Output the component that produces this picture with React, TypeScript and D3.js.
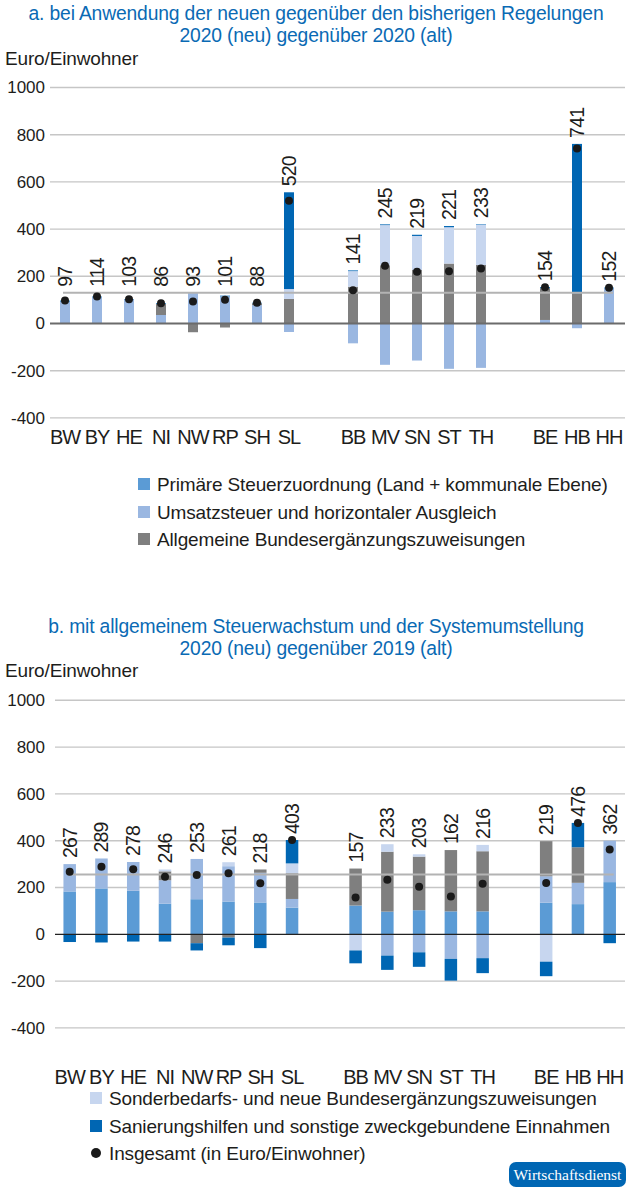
import React from "react";
import * as d3 from "d3";

// ---------- data ----------
const states = ["BW", "BY", "HE", "NI", "NW", "RP", "SH", "SL", "BB", "MV", "SN", "ST", "TH", "BE", "HB", "HH"];
const slots = ["BW", "BY", "HE", "NI", "NW", "RP", "SH", "SL", "_g1", "BB", "MV", "SN", "ST", "TH", "_g2", "BE", "HB", "HH"];
const yTicks = [1000, 800, 600, 400, 200, 0, -200, -400];

const seriesKeys = ["prim", "ust", "abez", "sbez", "san"];
const seriesNames = [
  "Primäre Steuerzuordnung (Land + kommunale Ebene)",
  "Umsatzsteuer und horizontaler Ausgleich",
  "Allgemeine Bundesergänzungszuweisungen",
  "Sonderbedarfs- und neue Bundesergänzungszuweisungen",
  "Sanierungshilfen und sonstige zweckgebundene Einnahmen",
];
const totalName = "Insgesamt (in Euro/Einwohner)";
const seriesColors = ["#5b9bd5", "#9ab7e1", "#7f7f7f", "#c7d6ef", "#0066b3"];

// chart a: 2020 (neu) vs 2020 (alt)
const aPrim = [0, 0, 0, 0, 0, 0, 0, 0, 0, 0, 0, 0, 0, 0, 0, 0];
const aUst = [93, 111, 101, 36, 130, 115, 78, -36, -84, -175, -157, -192, -188, 15, -20, 149];
const aAbez = [0, 0, 0, 47, -37, -17, 8, 104, 156, 247, 227, 254, 248, 135, 128, 0];
const aSbez = [0, 0, 0, 0, 0, 0, 0, 42, 66, 170, 144, 154, 171, 0, 0, 0];
const aSan = [4, 3, 2, 3, 0, 3, 2, 410, 3, 3, 5, 5, 2, 4, 633, 3];
const aTotal = [97, 114, 103, 86, 93, 101, 88, 520, 141, 245, 219, 221, 233, 154, 741, 152];
const aReference = 130;

// chart b: 2020 (neu) vs 2019 (alt)
const bPrim = [183, 196, 186, 131, 150, 140, 136, 114, 123, 97, 103, 98, 98, 135, 129, 223];
const bUst = [117, 128, 123, 100, 172, 151, 127, 37, 0, -91, -77, -105, -102, 113, 91, 177];
const bAbez = [0, 0, 0, 38, -38, -14, 14, 110, 158, 256, 229, 262, 257, 150, 152, 0];
const bSbez = [0, 0, 0, 8, 0, 17, 0, 42, -69, 32, 10, 0, 27, -117, 0, 0];
const bSan = [-33, -35, -31, -31, -31, -33, -59, 100, -55, -61, -62, -93, -64, -62, 104, -38];
const bTotal = [267, 289, 278, 246, 253, 261, 218, 403, 157, 233, 203, 162, 216, 219, 476, 362];
const bReference = 256;

const TEXT = "#1d1d1b";
const BLUE = "#0a6ab4";
const FONT = "'Liberation Sans', Arial, Helvetica, sans-serif";

type ChartProps = {
  series: number[][];
  totals: number[];
  reference: number;
  yTop: number;
  yBottom: number;
  xFirst: number;
  xLast: number;
  gridLeft: number;
  barWidth: number;
  zeroColor: string;
  zeroWidth: number;
  labelY: number;
  labelGap: number;
};

function Chart(p: ChartProps) {
  const y = d3.scaleLinear().domain([-400, 1000]).range([p.yBottom, p.yTop]);
  const x = d3.scalePoint<string>().domain(slots).range([p.xFirst, p.xLast]);
  const rows = states.map((s, i) => {
    const r: any = { state: s };
    seriesKeys.forEach((k, j) => (r[k] = p.series[j][i]));
    return r;
  });
  const stacked = d3.stack<any>().keys(seriesKeys).offset(d3.stackOffsetDiverging)(rows);
  const posTop = states.map((_, i) => d3.sum(p.series.map((s) => Math.max(0, s[i]))));
  const gridRight = 625;
  return (
    <g>
      {yTicks.map((t) => (
        <g key={t}>
          {t !== 0 && (
            <line x1={p.gridLeft} x2={gridRight} y1={y(t)} y2={y(t)} stroke="#c6c6c6" strokeWidth={1.4} />
          )}
          <text x={45} y={y(t)} dy="0.35em" textAnchor="end" fontSize={17} fill={TEXT}>
            {t}
          </text>
        </g>
      ))}
      {stacked.map((ser, j) => (
        <g key={ser.key} fill={seriesColors[j]}>
          {ser.map((d, i) => {
            const h = Math.abs(y(d[0]) - y(d[1]));
            if (h < 0.01) return null;
            return (
              <rect
                key={i}
                x={(x(states[i]) as number) - p.barWidth / 2}
                width={p.barWidth}
                y={Math.min(y(d[0]), y(d[1]))}
                height={h}
              />
            );
          })}
        </g>
      ))}
      <line x1={p.gridLeft} x2={gridRight} y1={y(0)} y2={y(0)} stroke={p.zeroColor} strokeWidth={p.zeroWidth} />
      <line
        x1={(x("BW") as number) - 2}
        x2={(x("HH") as number) + 4}
        y1={y(p.reference)}
        y2={y(p.reference)}
        stroke="#b3b3b3"
        strokeWidth={2}
      />
      {states.map((s, i) => (
        <circle key={s} cx={x(s)} cy={y(p.totals[i])} r={4} fill="#1a1a1a" />
      ))}
      {states.map((s, i) => {
        const ly = Math.min(y(posTop[i]), y(p.reference)) - p.labelGap;
        return (
          <text
            key={s}
            transform={`translate(${x(s)},${ly}) rotate(-90)`}
            dy="0.36em"
            fontSize={19.5}
            letterSpacing={-0.8}
            fill={TEXT}
          >
            {p.totals[i]}
          </text>
        );
      })}
      {states.map((s) => (
        <text key={s} x={x(s)} y={p.labelY} textAnchor="middle" fontSize={20} letterSpacing={-1} fill={TEXT}>
          {s}
        </text>
      ))}
    </g>
  );
}

function Legend({ items, x, ys }: { items: number[]; x: number; ys: number[] }) {
  return (
    <g>
      {items.map((idx, k) => (
        <g key={k}>
          {idx >= 0 ? (
            <rect x={x} y={ys[k] - 6} width={12} height={12} fill={seriesColors[idx]} />
          ) : (
            <circle cx={x + 6} cy={ys[k]} r={5} fill="#1a1a1a" />
          )}
          <text x={x + 19} y={ys[k]} dy="0.36em" fontSize={19} fill={TEXT} letterSpacing={-0.15}>
            {idx >= 0 ? seriesNames[idx] : totalName}
          </text>
        </g>
      ))}
    </g>
  );
}

const titleStyle = { fontSize: 19.3, letterSpacing: -0.15 };

export default function App() {
  return (
    <svg
      width={630}
      height={1189}
      style={{ position: "absolute", left: 0, top: 0, background: "#fff" }}
      fontFamily={FONT}
    >
      <text x={316} y={20} textAnchor="middle" fill={BLUE} {...titleStyle}>
        a. bei Anwendung der neuen gegenüber den bisherigen Regelungen
      </text>
      <text x={316} y={42} textAnchor="middle" fill={BLUE} {...titleStyle}>
        2020 (neu) gegenüber 2020 (alt)
      </text>
      <text x={5} y={65} fontSize={19} fill={TEXT} letterSpacing={-0.15}>
        Euro/Einwohner
      </text>
      <Chart
        series={[aPrim, aUst, aAbez, aSbez, aSan]}
        totals={aTotal}
        reference={aReference}
        yTop={87.5}
        yBottom={417.9}
        xFirst={65}
        xLast={609}
        gridLeft={50}
        barWidth={10}
        zeroColor="#6b6b6b"
        zeroWidth={1.8}
        labelY={444}
        labelGap={6}
      />
      <Legend items={[0, 1, 2]} x={138} ys={[484, 512, 539]} />

      <text x={316} y={633} textAnchor="middle" fill={BLUE} {...titleStyle}>
        b. mit allgemeinem Steuerwachstum und der Systemumstellung
      </text>
      <text x={316} y={655} textAnchor="middle" fill={BLUE} {...titleStyle}>
        2020 (neu) gegenüber 2019 (alt)
      </text>
      <text x={5} y={677} fontSize={19} fill={TEXT} letterSpacing={-0.15}>
        Euro/Einwohner
      </text>
      <Chart
        series={[bPrim, bUst, bAbez, bSbez, bSan]}
        totals={bTotal}
        reference={bReference}
        yTop={700.3}
        yBottom={1027.9}
        xFirst={69.7}
        xLast={609.7}
        gridLeft={55}
        barWidth={12.5}
        zeroColor="#222"
        zeroWidth={1.2}
        labelY={1084}
        labelGap={6}
      />
      <Legend items={[3, 4, -1]} x={90} ys={[1098, 1126, 1153]} />

      <rect x={509} y={1162} width={117} height={25} rx={7} fill="#0066b3" />
      <text
        x={567.5}
        y={1175}
        dy="0.35em"
        textAnchor="middle"
        fontSize={15.5}
        fill="#fff"
        fontFamily="'Liberation Serif', 'DejaVu Serif', serif"
      >
        Wirtschaftsdienst
      </text>
    </svg>
  );
}
